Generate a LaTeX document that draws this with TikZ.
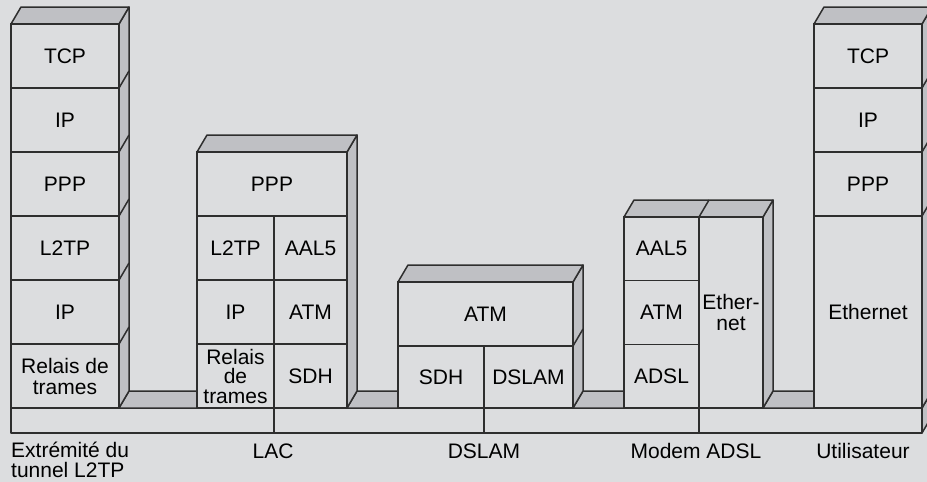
\documentclass[tikz,border=0pt]{standalone}
\usepackage{fontspec}
\setmainfont{Liberation Sans}
\definecolor{bgray}{HTML}{DCDDDF}
\definecolor{sgray}{HTML}{BFC0C4}
\definecolor{edge}{HTML}{2E2E2E}

\begin{document}
\begin{tikzpicture}[x=1pt, y=-1pt]
    % Define styles
    \tikzstyle{layer}=[rectangle, draw=edge, fill=bgray, line width=1.5pt, anchor=north west, inner sep=0pt, outer sep=0pt, align=center, font=\fontsize{21}{21}\selectfont]
    \tikzstyle{face}=[draw=edge, fill=sgray, line width=1.5pt, line join=round]
    \tikzstyle{edgeline}=[draw=edge, line width=1.5pt]
    \tikzstyle{devname}=[font=\fontsize{21}{20}\selectfont, inner sep=0pt, anchor=base]

    % Background
    \useasboundingbox (0,0) rectangle (927,482);
    \fill[bgray] (0,0) rectangle (927,482);
    \clip (0,0) rectangle (927,482);

    % Draw base
    \draw[face, fill=bgray] (11,408) rectangle (922,433);
    \draw[face] (922,408) -- ++(10,-17) -- ++(0,25) -- (922,433) -- cycle;
    \foreach \x in {274,484,699} {
        \draw[edgeline] (\x,408) -- (\x,433);
    }

    % Draw links between stacks
    \foreach \r/\l in {119/197, 347/398, 573/624, 763/814} {
        \draw[face] (\r,408) -- ++(10,-17) -- (\l,391) -- (\l,408) -- cycle;
    }

    % Draw side and top faces
    \foreach \l/\r/\t in {11/119/24, 197/347/152, 398/573/282, 624/763/217, 814/922/24} {
        \draw[face] (\r,\t) -- ++(10,-17) -- (\r+10,391) -- (\r,408) -- cycle;
        \draw[face] (\l,\t) -- ++(10,-17) -- (\r+10,\t-17) -- (\r,\t) -- cycle;
    }

    % Layer edges on the faces
    \foreach \x/\y in {119/88, 119/152, 119/216, 119/280, 119/344, 573/346, 922/88, 922/152, 922/216, 699/217} {
        \draw[edgeline] (\x,\y) -- ++(10,-17);
    }

    % Draw stack: Extremite du tunnel
    \foreach \t [count=\i] in {TCP, IP, PPP, L2TP, IP, {Relais de\\trames}} {
        \node[layer, minimum width=108, minimum height=64] (T-\i) at (11,{24+64*(\i-1)}) {\t};
    }

    % Draw stack: LAC
    \node[layer, minimum width=150, minimum height=64] (L-ppp) at (197,152) {PPP};
    \foreach \a/\b [count=\i] in {L2TP/AAL5, IP/ATM, {Relais\\[-1.5pt]de\\[-1.5pt]trames}/SDH} {
        \node[layer, minimum width=77, minimum height=64] (L-a\i) at (197,{152+64*\i}) {\a};
        \node[layer, minimum width=73, minimum height=64] (L-b\i) at (274,{152+64*\i}) {\b};
    }

    % Draw stack: DSLAM
    \node[layer, minimum width=175, minimum height=64] (D-atm) at (398,282) {ATM};
    \node[layer, minimum width=86, minimum height=62] (D-sdh) at (398,346) {SDH};
    \node[layer, minimum width=89, minimum height=62] (D-dslam) at (484,346) {DSLAM};

    % Draw stack: Modem ADSL
    \foreach \t [count=\i] in {AAL5, ATM, ADSL} {
        \node[layer, minimum width=75, minimum height=63.7] (M-\i) at (624,{217+63.7*(\i-1)}) {\t};
    }
    \node[layer, minimum width=64, minimum height=191] (M-eth) at (699,217) {Ether-\\net};

    % Draw stack: Utilisateur
    \foreach \t [count=\i] in {TCP, IP, PPP} {
        \node[layer, minimum width=108, minimum height=64] (U-\i) at (814,{24+64*(\i-1)}) {\t};
    }
    \node[layer, minimum width=108, minimum height=192] (U-eth) at (814,216) {Ethernet};

    % Labels
    \node[devname, anchor=north west, align=left] (n-tunnel) at (11,442) {Extrémité du\\tunnel L2TP};
    \node[devname] (n-lac) at (273,458) {LAC};
    \node[devname] (n-dslam) at (484,458) {DSLAM};
    \node[devname] (n-modem) at (696,458) {Modem ADSL};
    \node[devname] (n-user) at (863,458) {Utilisateur};
\end{tikzpicture}
\end{document}
